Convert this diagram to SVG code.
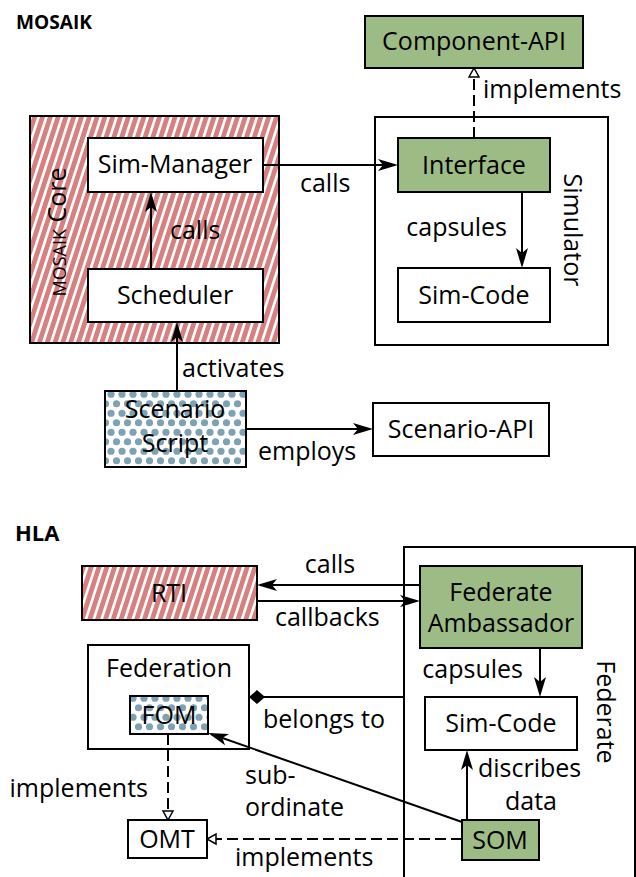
<svg xmlns="http://www.w3.org/2000/svg" width="636" height="877" viewBox="0 0 636 877">
<style>
text{font-family:"Open Sans","Noto Sans","DejaVu Sans",sans-serif;font-size:25px;fill:#000}
.c{text-anchor:middle}
.e{text-anchor:end}
.h{font-weight:bold}
.box{stroke:#000;stroke-width:2}
.w{fill:#fff}
.g{fill:#9cbb85}
.st{fill:url(#stripes)}
.dt{fill:url(#dots)}
.ln{fill:none;stroke:#000;stroke-width:2}
.dash{stroke-dasharray:11 5}
</style>
<defs>
<pattern id="stripes" patternUnits="userSpaceOnUse" width="78" height="240" x="0" y="0">
<rect width="78" height="240" fill="#fff"/>
<path fill="#d68080" d="M-78,240h5l78,-240h-5z M-70.2,240h5l78,-240h-5z M-62.4,240h5l78,-240h-5z M-54.6,240h5l78,-240h-5z M-46.8,240h5l78,-240h-5z M-39,240h5l78,-240h-5z M-31.2,240h5l78,-240h-5z M-23.4,240h5l78,-240h-5z M-15.6,240h5l78,-240h-5z M-7.8,240h5l78,-240h-5z M0,240h5l78,-240h-5z M7.8,240h5l78,-240h-5z M15.6,240h5l78,-240h-5z M23.4,240h5l78,-240h-5z M31.2,240h5l78,-240h-5z M39,240h5l78,-240h-5z M46.8,240h5l78,-240h-5z M54.6,240h5l78,-240h-5z M62.4,240h5l78,-240h-5z M70.2,240h5l78,-240h-5z"/>
</pattern>
<pattern id="dots" patternUnits="userSpaceOnUse" width="11" height="19" x="1" y="0">
<rect width="11" height="19" fill="#fff"/>
<circle cx="5.5" cy="4.75" r="3.6" fill="#7ea2b2"/>
<circle cx="0" cy="14.25" r="3.6" fill="#7ea2b2"/>
<circle cx="11" cy="14.25" r="3.6" fill="#7ea2b2"/>
</pattern>
<marker id="arr" markerUnits="userSpaceOnUse" viewBox="-21 -7 22 14" refX="-3" refY="0" markerWidth="22" markerHeight="14" orient="auto">
<path d="M0,0 L-20,-6 L-15,0 L-20,6 Z" fill="#000" stroke="none"/>
</marker>
<marker id="tri" markerUnits="userSpaceOnUse" viewBox="-1 -7 12 14" refX="0" refY="0" markerWidth="12" markerHeight="14" orient="auto">
<path d="M0,-5 L9,0 L0,5 Z" fill="#fff" stroke="#000" stroke-width="1.5" stroke-dasharray="none"/>
</marker>
<marker id="dia" markerUnits="userSpaceOnUse" viewBox="-17 -8 18 16" refX="-8" refY="0" markerWidth="18" markerHeight="16" orient="auto">
<path d="M0,0 L-8,-7 L-16,0 L-8,7 Z" fill="#000" stroke="none"/>
</marker>
</defs>

<text class="h" x="16" y="29" style="font-size:19px" textLength="76" lengthAdjust="spacingAndGlyphs">MOSAIK</text>
<text class="h" x="15" y="541" style="font-size:22px">HLA</text>

<g id="mosaik-core">
<rect class="box st" x="30" y="116" width="249" height="227"/>
<text transform="translate(66,232) rotate(-90)" class="c"><tspan style="font-size:18px">MOSAIK</tspan> Core</text>
</g>
<g id="simulator">
<rect class="box w" x="375" y="117" width="233" height="228"/>
<text transform="translate(564,230) rotate(90)" class="c">Simulator</text>
</g>
<g id="federate">
<rect class="box w" x="404" y="547" width="231" height="345"/>
<text transform="translate(597,712) rotate(90)" class="c">Federate</text>
</g>
<g id="federation">
<rect class="box w" x="88" y="645" width="161" height="104"/>
<text class="c" x="169" y="677">Federation</text>
</g>

<g id="connectors">
<line class="ln" x1="263" y1="165" x2="395" y2="165" marker-end="url(#arr)"/>
<text x="300" y="192">calls</text>
<line class="ln" x1="151" y1="269" x2="151" y2="195" marker-end="url(#arr)"/>
<text x="170" y="239">calls</text>
<line class="ln dash" x1="474" y1="138" x2="474" y2="77" marker-end="url(#tri)"/>
<text x="483" y="98">implements</text>
<line class="ln" x1="522" y1="192" x2="522" y2="265" marker-end="url(#arr)"/>
<text class="e" x="507" y="236">capsules</text>
<line class="ln" x1="177" y1="391" x2="177" y2="325" marker-end="url(#arr)"/>
<text x="182" y="377">activates</text>
<line class="ln" x1="246" y1="429" x2="370" y2="429" marker-end="url(#arr)"/>
<text x="258" y="460">employs</text>

<line class="ln" x1="420" y1="585" x2="260" y2="585" marker-end="url(#arr)"/>
<text class="c" x="330" y="573">calls</text>
<line class="ln" x1="257" y1="601" x2="417" y2="601" marker-end="url(#arr)"/>
<text x="275" y="626">callbacks</text>
<line class="ln" x1="404" y1="697" x2="257" y2="697" marker-end="url(#dia)"/>
<text x="263" y="728">belongs to</text>
<line class="ln" x1="540" y1="648" x2="540" y2="694" marker-end="url(#arr)"/>
<text class="e" x="523" y="678">capsules</text>
<line class="ln" x1="467" y1="820" x2="467" y2="753" marker-end="url(#arr)"/>
<text x="478" y="777">discribes</text>
<text x="505" y="810">data</text>
<line class="ln" x1="462" y1="822" x2="211" y2="734" marker-end="url(#arr)"/>
<text x="245" y="784">sub-</text>
<text x="245" y="816">ordinate</text>
<line class="ln dash" x1="168" y1="734" x2="168" y2="811" marker-end="url(#tri)"/>
<text class="e" x="148" y="797">implements</text>
<line class="ln dash" x1="462" y1="839" x2="216" y2="839" marker-end="url(#tri)"/>
<text x="235" y="866">implements</text>
</g>

<g id="component-api">
<rect class="box g" x="365" y="16" width="218" height="52"/>
<text class="c" x="474" y="50">Component-API</text>
</g>
<g id="sim-manager">
<rect class="box w" x="88" y="138" width="175" height="54"/>
<text class="c" x="175" y="173">Sim-Manager</text>
</g>
<g id="scheduler">
<rect class="box w" x="88" y="269" width="175" height="53"/>
<text class="c" x="175" y="304">Scheduler</text>
</g>
<g id="interface">
<rect class="box g" x="398" y="138" width="152" height="54"/>
<text class="c" x="474" y="174">Interface</text>
</g>
<g id="sim-code">
<rect class="box w" x="398" y="268" width="152" height="54"/>
<text class="c" x="474" y="304">Sim-Code</text>
</g>
<g id="scenario-script">
<rect class="box dt" x="105" y="391" width="141" height="76"/>
<text class="c" x="175" y="418">Scenario</text>
<text class="c" x="175" y="452">Script</text>
</g>
<g id="scenario-api">
<rect class="box w" x="373" y="403" width="176" height="53"/>
<text class="c" x="461" y="438">Scenario-API</text>
</g>
<g id="rti">
<rect class="box st" x="82" y="566" width="175" height="54"/>
<text class="c" x="169" y="602">RTI</text>
</g>
<g id="fom">
<rect class="box dt" x="130" y="696" width="78" height="38"/>
<text class="c" x="169" y="724">FOM</text>
</g>
<g id="federate-ambassador">
<rect class="box g" x="420" y="566" width="162" height="82"/>
<text class="c" x="501" y="601">Federate</text>
<text class="c" x="501" y="632">Ambassador</text>
</g>
<g id="sim-code-hla">
<rect class="box w" x="425" y="697" width="152" height="53"/>
<text class="c" x="501" y="732">Sim-Code</text>
</g>
<g id="som">
<rect class="box g" x="462" y="820" width="77" height="40"/>
<text class="c" x="500" y="849">SOM</text>
</g>
<g id="omt">
<rect class="box w" x="128" y="820" width="79" height="38"/>
<text class="c" x="167" y="848">OMT</text>
</g>
</svg>
